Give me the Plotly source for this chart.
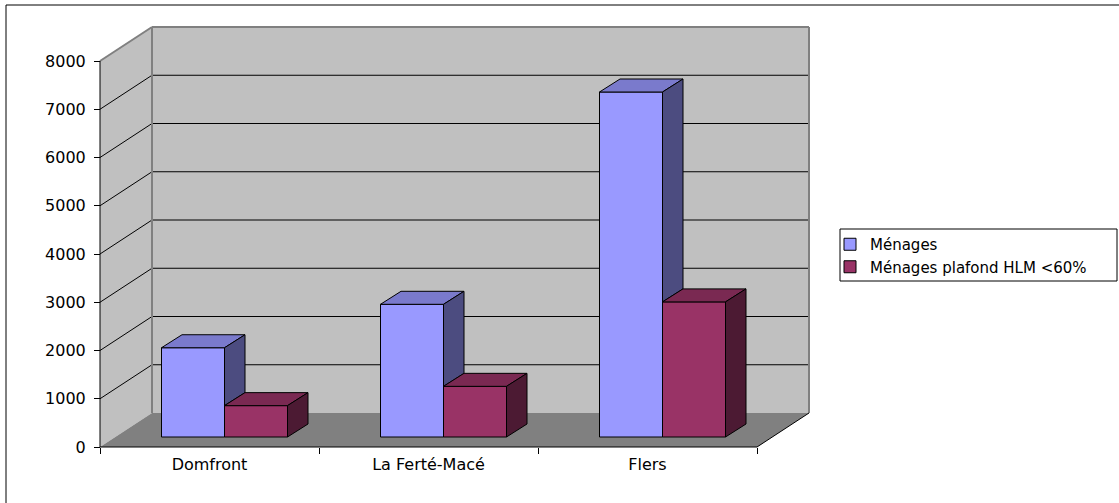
import plotly.graph_objects as go

# ---- data -----------------------------------------------------------------
categories = ["Domfront", "La Ferté-Macé", "Flers"]
menages = [1850, 2750, 7150]
menages_hlm = [650, 1050, 2800]
series_names = ["Ménages", "Ménages plafond HLM <60%"]
y_ticks = [0, 1000, 2000, 3000, 4000, 5000, 6000, 7000, 8000]
y_max = 8000

# ---- page geometry (pixels) ------------------------------------------------
FIG_W, FIG_H = 1119, 503
X_FRONT = 100          # left edge of the front plane
Y_ZERO = 447           # zero line of the front plane
PX_PER_CAT = 219       # width of one category slot
PX_PER_UNIT = 48.25 / 1000
WALL_DX, WALL_DY = 52, 34          # depth of the box (oblique projection)
BAR_SHIFT_X, BAR_SHIFT_Y = 15, 10  # bars stand a little behind the front edge
BAR_DX, BAR_DY = 20.5, 13          # bar depth
BAR_W_PX = 63
PAD = 5

def u(px):   # pixels -> category units
    return px / PX_PER_CAT

def v(px):   # pixels -> value units
    return px / PX_PER_UNIT

n_cat = len(categories)
x_lo = -0.5
x_hi = n_cat - 0.5
wdx, wdy = u(WALL_DX), v(WALL_DY)
bdx, bdy = u(BAR_DX), v(BAR_DY)
shift = u(BAR_SHIFT_X)
base = v(BAR_SHIFT_Y)
bw = u(BAR_W_PX)

plot_w = round(n_cat * PX_PER_CAT + WALL_DX + 2 * PAD)
plot_h = round(y_max * PX_PER_UNIT + WALL_DY + 2 * PAD)
m_l = X_FRONT - PAD
m_b = FIG_H - Y_ZERO - PAD
m_t = FIG_H - m_b - plot_h
m_r = FIG_W - m_l - plot_w

def px_to_paper_x(px):
    return (px - m_l) / plot_w

def px_to_paper_y(py):
    return (FIG_H - m_b - py) / plot_h

# ---- colours ---------------------------------------------------------------
face_colors = ["#9999FF", "#993366"]

def shade(hex_color, f):
    r, g, b = (int(hex_color[i:i + 2], 16) for i in (1, 3, 5))
    return "#%02X%02X%02X" % (round(r * f), round(g * f), round(b * f))

WALL = "#C0C0C0"
FLOOR = "#808080"
EDGE = "#808080"

fig = go.Figure()

# ---- front faces of the bars -----------------------------------------------
series = [menages, menages_hlm]
for k, vals in enumerate(series):
    fig.add_trace(go.Bar(
        x=[i + shift for i in range(n_cat)],
        y=vals,
        base=[base] * n_cat,
        width=bw,
        offset=-bw + k * bw,
        name=series_names[k],
        marker=dict(color=face_colors[k], line=dict(color="black", width=1)),
        hoverinfo="skip",
    ))

# ---- top and side faces ----------------------------------------------------
for k, vals in enumerate(series):
    nxt = series[k + 1] if k + 1 < len(series) else None
    tx, ty, sx, sy = [], [], [], []
    for i, val in enumerate(vals):
        left = i + shift - bw + k * bw
        right = left + bw
        top = base + val
        tx += [left, right, right + bdx, left + bdx, left, None]
        ty += [top, top, top + bdy, top + bdy, top, None]
        bottom = base if nxt is None else base + min(nxt[i], val)
        sx += [right, right, right + bdx, right + bdx, right, None]
        sy += [bottom, top, top + bdy, bottom + bdy, bottom, None]
    for xs, ys, f in ((tx, ty, 0.8), (sx, sy, 0.5)):
        fig.add_trace(go.Scatter(
            x=xs, y=ys, mode="lines", fill="toself",
            fillcolor=shade(face_colors[k], f),
            line=dict(color="black", width=1),
            showlegend=False, hoverinfo="skip",
        ))

# ---- walls, floor, grid ----------------------------------------------------
shapes = []
shapes.append(dict(type="path", layer="below", fillcolor=WALL, line=dict(width=0),
                   path=f"M {x_lo},0 L {x_lo},{y_max} L {x_lo + wdx},{y_max + wdy} "
                        f"L {x_lo + wdx},{wdy} Z"))
shapes.append(dict(type="rect", layer="below", fillcolor=WALL, line=dict(width=0),
                   x0=x_lo + wdx, x1=x_hi + wdx, y0=wdy, y1=y_max + wdy))
shapes.append(dict(type="path", layer="below", fillcolor=FLOOR, line=dict(width=0),
                   path=f"M {x_lo},0 L {x_hi},0 L {x_hi + wdx},{wdy} L {x_lo + wdx},{wdy} Z"))

def seg(x0, y0, x1, y1, color, width):
    return dict(type="line", layer="below", x0=x0, y0=y0, x1=x1, y1=y1,
                line=dict(color=color, width=width))

for t in y_ticks[1:-1]:
    shapes.append(seg(x_lo, t, x_lo + wdx, t + wdy, "black", 1))
    shapes.append(seg(x_lo + wdx, t + wdy, x_hi + wdx, t + wdy, "black", 1))

# wall edges
shapes.append(seg(x_lo + wdx, wdy, x_lo + wdx, y_max + wdy, EDGE, 2))
shapes.append(seg(x_lo + wdx, y_max + wdy, x_hi + wdx, y_max + wdy, EDGE, 2))
shapes.append(seg(x_hi + wdx, wdy, x_hi + wdx, y_max + wdy, EDGE, 2))
shapes.append(seg(x_lo, y_max, x_lo + wdx, y_max + wdy, EDGE, 2))
# axis lines and floor edge
shapes.append(seg(x_lo, 0, x_lo, y_max, "black", 1))
shapes.append(seg(x_lo, 0, x_hi, 0, "black", 1))
shapes.append(seg(x_hi, 0, x_hi + wdx, wdy, "black", 1))

# outer chart frame
fx, fy = px_to_paper_x(6), px_to_paper_y(5)
shapes.append(dict(type="line", xref="paper", yref="paper", x0=fx, x1=fx,
                   y0=fy, y1=px_to_paper_y(FIG_H + 10), line=dict(color="black", width=1)))
shapes.append(dict(type="line", xref="paper", yref="paper", x0=fx, x1=px_to_paper_x(FIG_W + 10),
                   y0=fy, y1=fy, line=dict(color="black", width=1)))
# legend frame
shapes.append(dict(type="rect", xref="paper", yref="paper",
                   x0=px_to_paper_x(840), x1=px_to_paper_x(1117),
                   y0=px_to_paper_y(281), y1=px_to_paper_y(229),
                   line=dict(color="black", width=1), fillcolor="rgba(0,0,0,0)"))

FONT = "DejaVu Sans"

fig.update_layout(
    width=FIG_W, height=FIG_H,
    margin=dict(l=m_l, r=m_r, t=m_t, b=m_b, pad=0),
    paper_bgcolor="white", plot_bgcolor="white",
    barmode="overlay",
    shapes=shapes,
    font=dict(family=FONT, size=16, color="black"),
    showlegend=True,
    legend=dict(
        x=px_to_paper_x(830), xanchor="left",
        y=px_to_paper_y(228), yanchor="top",
        bgcolor="rgba(0,0,0,0)", borderwidth=0,
        font=dict(family=FONT, size=15, color="black"),
        traceorder="grouped", tracegroupgap=8,
    ),
    xaxis=dict(
        range=[x_lo - u(PAD), x_hi + wdx + u(PAD)],
        anchor="free", position=PAD / plot_h,
        tickmode="array", tickvals=list(range(n_cat)), ticktext=categories,
        ticks="", showgrid=False, showline=False, zeroline=False,
        ticklabelstandoff=6,
        minor=dict(tickmode="linear", tick0=-0.5, dtick=1, ticks="outside",
                   ticklen=6, tickcolor="black", tickwidth=1, showgrid=False),
        fixedrange=True,
    ),
    yaxis=dict(
        range=[-v(PAD), y_max + wdy + v(PAD)],
        anchor="free", position=PAD / plot_w,
        tickmode="array", tickvals=y_ticks,
        ticks="outside", ticklen=6, tickcolor="black", tickwidth=1,
        ticklabelstandoff=5,
        showgrid=False, showline=False, zeroline=False,
        fixedrange=True,
    ),
)

fig.write_html("out.html")
